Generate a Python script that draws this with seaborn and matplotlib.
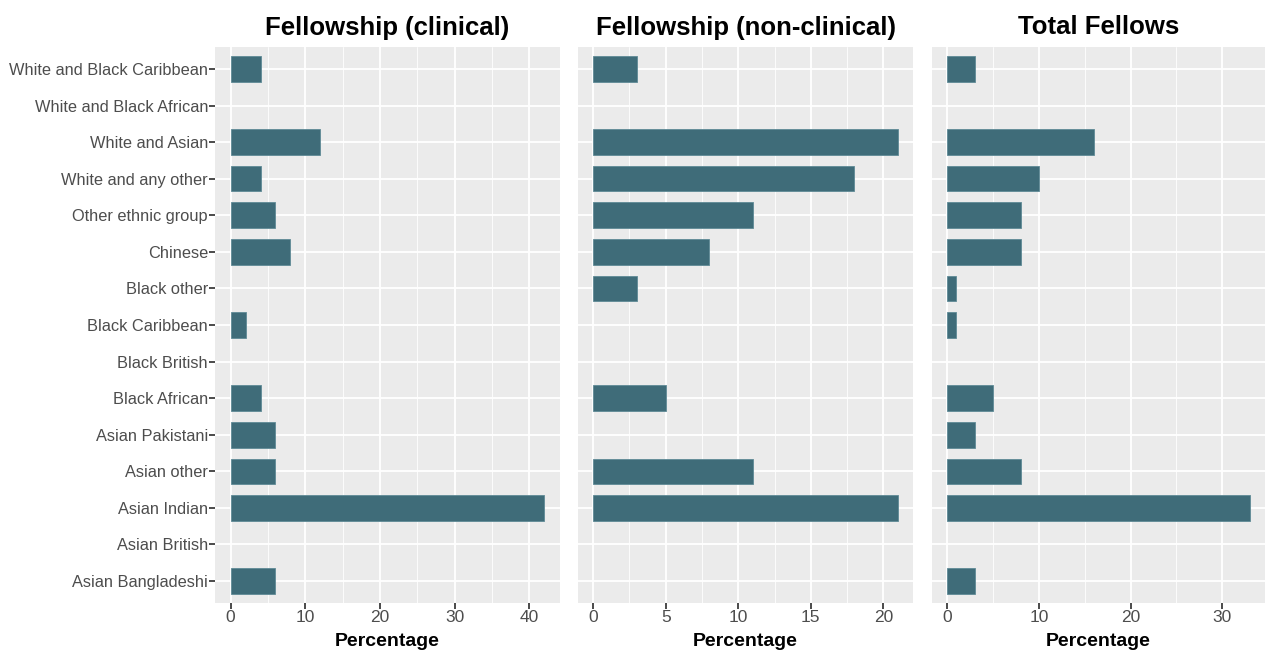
import matplotlib
matplotlib.use("Agg")
import matplotlib.pyplot as plt
import seaborn as sns
import pandas as pd
import numpy as np
from matplotlib.ticker import MultipleLocator

categories = ["White and Black Caribbean", "White and Black African", "White and Asian",
              "White and any other", "Other ethnic group", "Chinese", "Black other",
              "Black Caribbean", "Black British", "Black African", "Asian Pakistani",
              "Asian other", "Asian Indian", "Asian British", "Asian Bangladeshi"]
clinical = [4, 0, 12, 4, 6, 8, 0, 2, 0, 4, 6, 6, 42, 0, 6]
non_clinical = [3, 0, 21, 18, 11, 8, 3, 0, 0, 5, 0, 11, 21, 0, 0]
total = [3, 0, 16, 10, 8, 8, 1, 1, 0, 5, 3, 8, 33, 0, 3]
titles = ["Fellowship (clinical)", "Fellowship (non-clinical)", "Total Fellows"]
xlabels = ["Percentage", "Percentage", "Percentage"]
major_steps = [10, 5, 10]

sns.set_theme(style="darkgrid")
plt.rcParams["font.family"] = ["Liberation Sans", "DejaVu Sans"]

W, H = 1271, 653
fig = plt.figure(figsize=(W / 100, H / 100), dpi=100)
panels = [(215, 560), (578, 913), (932, 1265)]
top, bottom = 47, 603
bar_color = "#3f6c79"

for i, (vals, title, xl, step) in enumerate(zip([clinical, non_clinical, total], titles, xlabels, major_steps)):
    x0, x1 = panels[i]
    ax = fig.add_axes([x0 / W, 1 - bottom / H, (x1 - x0) / W, (bottom - top) / H])
    df = pd.DataFrame({"cat": categories, "val": vals})
    sns.barplot(data=df, x="val", y="cat", orient="h", color=bar_color, width=0.7,
                edgecolor="#5f8a96", linewidth=0.6, saturation=1, ax=ax, zorder=3)
    for p in ax.patches:
        if p.get_width() == 0:
            p.set_linewidth(0)
            p.set_visible(False)
    ax.set_facecolor("#EBEBEB")
    vmax = max(vals)
    ax.set_xlim(-0.05 * vmax, 1.05 * vmax)
    ax.set_ylim(len(categories) - 1 + 0.6, -0.6)
    ax.xaxis.set_major_locator(MultipleLocator(step))
    ax.xaxis.set_minor_locator(MultipleLocator(step / 2))
    ax.grid(which="major", color="white", linewidth=1.3)
    ax.grid(which="minor", axis="x", color="white", linewidth=0.6)
    ax.set_axisbelow(True)
    for s in ax.spines.values():
        s.set_visible(False)
    ax.set_title(title, fontsize=18.5, fontweight="bold", color="black", pad=9)
    ax.set_xlabel(xl, fontsize=14, fontweight="bold", color="black", labelpad=6)
    ax.set_ylabel("")
    ax.tick_params(axis="x", which="major", length=4, color="#333333", labelsize=12.5,
                   labelcolor="#4D4D4D", pad=1, bottom=True)
    ax.tick_params(axis="x", which="minor", length=0)
    if i == 0:
        ax.tick_params(axis="y", length=4, color="#333333", labelsize=11.8,
                       labelcolor="#4D4D4D", pad=1, left=True)
    else:
        ax.set_yticklabels([])
        ax.tick_params(axis="y", length=0)

fig.savefig("out.png", dpi=100, facecolor="white")
